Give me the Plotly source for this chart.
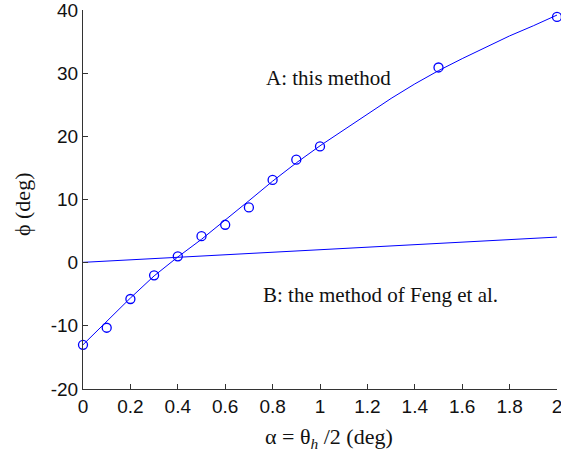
import plotly.graph_objects as go

# measured points (method A)
alpha_pts = [0, 0.1, 0.2, 0.3, 0.4, 0.5, 0.6, 0.7, 0.8, 0.9, 1.0, 1.5, 2.0]
phi_pts = [-13.0, -10.3, -5.75, -2.0, 1.0, 4.2, 6.0, 8.75, 13.1, 16.3, 18.4, 30.9, 38.9]

# curve A: this method
alpha_a = [0, 0.1, 0.2, 0.3, 0.4, 0.5, 0.6, 0.7, 0.8, 0.9, 1.0, 1.1, 1.2, 1.3, 1.4, 1.5, 1.6, 1.7, 1.8, 1.9, 2.0]
phi_a = [-13.0, -9.3, -5.6, -2.1, 0.9, 3.7, 6.7, 9.8, 12.9, 15.8, 18.5, 21.0, 23.5, 26.0, 28.3, 30.4, 32.3, 34.1, 35.9, 37.5, 39.2]

# curve B: method of Feng et al.
alpha_b = [0, 0.5, 1.0, 1.5, 2.0]
phi_b = [0.05, 1.05, 2.1, 3.1, 4.05]

x_ticks = [0, 0.2, 0.4, 0.6, 0.8, 1.0, 1.2, 1.4, 1.6, 1.8, 2.0]
x_labels = ["0", "0.2", "0.4", "0.6", "0.8", "1", "1.2", "1.4", "1.6", "1.8", "2"]
y_ticks = [-20, -10, 0, 10, 20, 30, 40]
y_labels = ["-20", "-10", "0", "10", "20", "30", "40"]

blue = "#0000ff"
serif = "Liberation Serif"
fig = go.Figure()
fig.add_trace(go.Scatter(x=alpha_a, y=phi_a, mode="lines",
                         line=dict(color=blue, width=1), cliponaxis=False))
fig.add_trace(go.Scatter(x=alpha_b, y=phi_b, mode="lines",
                         line=dict(color=blue, width=1), cliponaxis=False))
fig.add_trace(go.Scatter(x=alpha_pts, y=phi_pts, mode="markers",
                         marker=dict(symbol="circle-open", size=9, color=blue,
                                     line=dict(color=blue, width=1.3)),
                         cliponaxis=False))

fig.add_annotation(x=1.034, y=29.3, text="A: this method", showarrow=False,
                   xanchor="center", yanchor="middle",
                   font=dict(family=serif, size=21, color="#111"))
fig.add_annotation(x=1.255, y=-5.06, text="B: the method of Feng et al.", showarrow=False,
                   xanchor="center", yanchor="middle",
                   font=dict(family=serif, size=21, color="#111"))
# axis titles
fig.add_annotation(xref="paper", yref="paper", x=0.519, y=-0.129,
                   text="α = θ<sub><i>h</i></sub> /2 (deg)", showarrow=False,
                   xanchor="center", yanchor="middle",
                   font=dict(family=serif, size=22, color="#111"))
fig.add_annotation(xref="paper", yref="paper", x=-0.1287, y=0.488,
                   text="ϕ (deg)", showarrow=False, textangle=-90,
                   xanchor="center", yanchor="middle",
                   font=dict(family=serif, size=22, color="#111"))

fig.update_layout(
    width=561, height=450,
    margin=dict(l=83, r=4, t=10, b=61, autoexpand=False),
    plot_bgcolor="white", paper_bgcolor="white",
    showlegend=False,
    font=dict(family="Liberation Sans", size=19, color="#111"),
)
fig.update_xaxes(range=[0, 2], tickvals=x_ticks, ticktext=x_labels,
                 ticks="inside", ticklen=5, tickcolor="#333", tickwidth=1,
                 showline=True, linecolor="#333", linewidth=1,
                 showgrid=False, zeroline=False, automargin=False,
                 ticklabeloverflow="allow")
fig.update_yaxes(range=[-20, 40], tickvals=y_ticks, ticktext=y_labels,
                 ticks="inside", ticklen=5, tickcolor="#333", tickwidth=1,
                 showline=True, linecolor="#333", linewidth=1,
                 showgrid=False, zeroline=False, automargin=False,
                 ticklabeloverflow="allow")

fig.write_html("out.html", config={"displayModeBar": False},
               post_script="document.body.style.margin='0';document.body.style.overflow='hidden';")
